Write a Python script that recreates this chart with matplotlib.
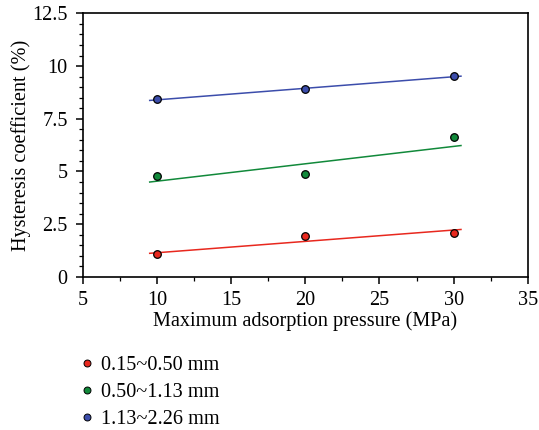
import matplotlib
matplotlib.use("Agg")
import matplotlib.pyplot as plt
from matplotlib.ticker import MultipleLocator, FuncFormatter
from matplotlib.lines import Line2D

plt.rcParams['font.family'] = ['Liberation Serif', 'DejaVu Serif']

pressure = [10, 20, 30]
labels = ["0.15~0.50 mm", "0.50~1.13 mm", "1.13~2.26 mm"]
red_vals = [1.09, 1.96, 2.07]
green_vals = [4.79, 4.88, 6.64]
blue_vals = [8.43, 8.89, 9.51]
fit_x = [9.5, 30.5]
red_fit = [1.12, 2.25]
green_fit = [4.50, 6.23]
blue_fit = [8.37, 9.52]

colors = ["#e8281e", "#11893a", "#3c4dab"]
series = [red_vals, green_vals, blue_vals]
fits = [red_fit, green_fit, blue_fit]

FS = 14.6

fig = plt.figure(figsize=(5.39, 4.30), dpi=100)
ax = fig.add_axes([0.154, 0.356, 0.825, 0.613])

for vals, fit, c in zip(series, fits, colors):
    ax.plot(fit_x, fit, color=c, lw=1.1, zorder=2)
    ax.scatter(pressure, vals, s=30, color=c, edgecolor='black', linewidth=0.9, zorder=3)

ax.set_xlim(5, 35)
ax.set_ylim(0, 12.5)
ax.xaxis.set_major_locator(MultipleLocator(5))
ax.xaxis.set_minor_locator(MultipleLocator(2.5))
ax.yaxis.set_major_locator(MultipleLocator(2.5))
ax.yaxis.set_minor_locator(MultipleLocator(0.5))
ax.yaxis.set_major_formatter(FuncFormatter(lambda v, p: f"{v:g}"))
for s in ['left', 'bottom', 'right', 'top']:
    ax.spines[s].set_linewidth(1.2)
ax.tick_params(which='major', direction='out', length=5, width=1.1, labelsize=FS)
ax.tick_params(axis='x', which='major', pad=5)
ax.tick_params(axis='y', which='major', pad=6)
ax.tick_params(which='minor', direction='out', length=3, width=0.9)
ax.set_xlabel("Maximum adsorption pressure (MPa)", fontsize=FS, labelpad=1)
ax.set_ylabel("Hysteresis coefficient (%)", fontsize=FS)
ax.yaxis.set_label_coords(-0.118, 0.5)

handles = [Line2D([], [], marker='o', ls='', markersize=5, markerfacecolor=c,
                  markeredgecolor='black', markeredgewidth=0.7) for c in colors]
fig.legend(handles, labels, loc='upper left', bbox_to_anchor=(0.128, 0.192),
           frameon=False, fontsize=FS, handletextpad=0.2, labelspacing=0.40,
           handlelength=1.0, borderaxespad=0)

fig.savefig("out.png", dpi=100)
